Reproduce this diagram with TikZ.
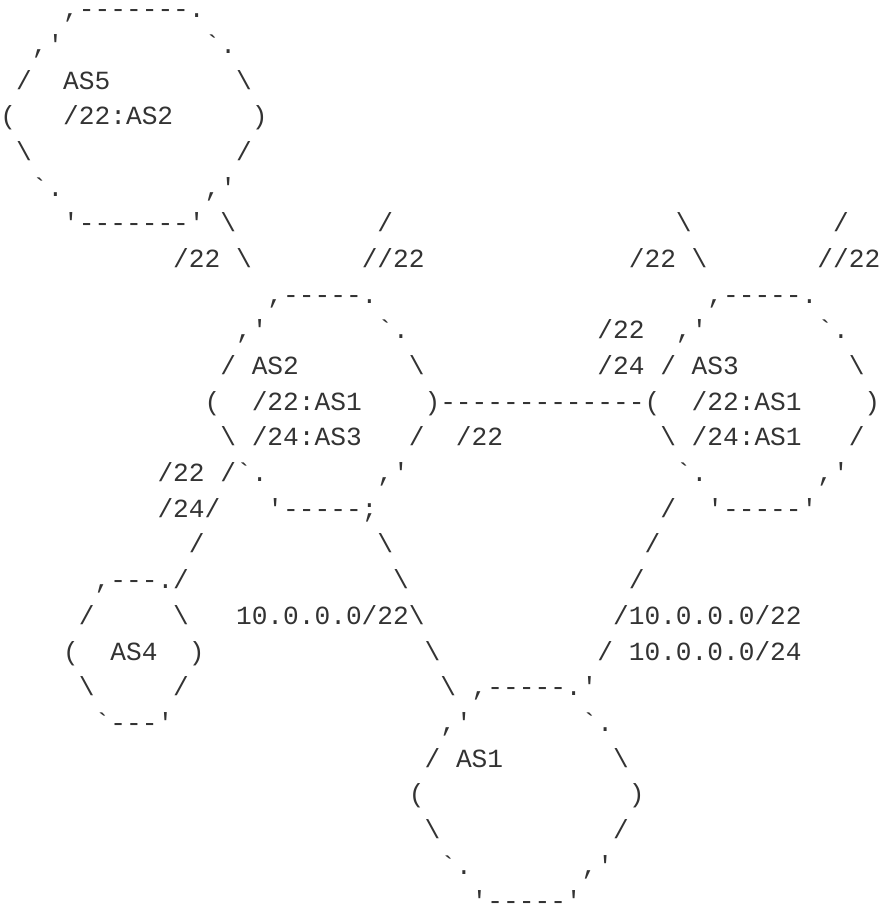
\documentclass[tikz,border=0pt]{standalone}
\usepackage{fontspec}
\setmonofont{Liberation Mono}
\usepackage{tikz}
\definecolor{ink}{HTML}{333333}
\newlength{\colw}
\setlength{\colw}{7.855pt}
\newcommand{\gap}[1]{\hspace*{#1\colw}}
\newcommand{\bsl}{\textbackslash}

\begin{document}
\begin{tikzpicture}[x=7.857pt, y=-17.84pt,
        asciiline/.style={anchor=base west, inner sep=0pt, text=ink,
            font=\fontsize{13.09pt}{17.84pt}\selectfont\ttfamily}]
        % Page frame
        \path[use as bounding box, fill=white] (0,0) rectangle (56,25.39);
        % AS5 and the links below it
        \node[asciiline] (r1) at (0,0.496) {\gap{4},-------.};
        \node[asciiline] (r2) at (0,1.496) {\gap{2},'\gap{9}`.};
        \node[asciiline] (r3) at (0,2.496) {\gap{1}/\gap{2}AS5\gap{8}\bsl};
        \node[asciiline] (r4) at (0,3.496) {(\gap{3}/22:AS2\gap{5})};
        \node[asciiline] (r5) at (0,4.496) {\gap{1}\bsl\gap{13}/};
        \node[asciiline] (r6) at (0,5.496) {\gap{2}`.\gap{9},'};
        \node[asciiline] (r7) at (0,6.496) {\gap{4}'-------'\gap{1}\bsl\gap{9}/\gap{18}\bsl\gap{9}/};
        \node[asciiline] (r8) at (0,7.496) {\gap{11}/22\gap{1}\bsl\gap{7}//22\gap{13}/22\gap{1}\bsl\gap{7}//22};
        % AS2 and AS3
        \node[asciiline] (r9) at (0,8.496) {\gap{17},-----.\gap{21},-----.};
        \node[asciiline] (r10) at (0,9.496) {\gap{15},'\gap{7}`.\gap{12}/22\gap{2},'\gap{7}`.};
        \node[asciiline] (r11) at (0,10.496) {\gap{14}/\gap{1}AS2\gap{7}\bsl\gap{11}/24\gap{1}/\gap{1}AS3\gap{7}\bsl};
        \node[asciiline] (r12) at (0,11.496) {\gap{13}(\gap{2}/22:AS1\gap{4})-------------(\gap{2}/22:AS1\gap{4})};
        \node[asciiline] (r13) at (0,12.496) {\gap{14}\bsl\gap{1}/24:AS3\gap{3}/\gap{2}/22\gap{10}\bsl\gap{1}/24:AS1\gap{3}/};
        \node[asciiline] (r14) at (0,13.496) {\gap{10}/22\gap{1}/`.\gap{7},'\gap{17}`.\gap{7},'};
        \node[asciiline] (r15) at (0,14.496) {\gap{10}/24/\gap{3}'-----;\gap{18}/\gap{2}'-----'};
        % AS4 and the links down to AS1
        \node[asciiline] (r16) at (0,15.496) {\gap{12}/\gap{11}\bsl\gap{16}/};
        \node[asciiline] (r17) at (0,16.496) {\gap{6},---./\gap{13}\bsl\gap{14}/};
        \node[asciiline] (r18) at (0,17.496) {\gap{5}/\gap{5}\bsl\gap{3}10.0.0.0/22\bsl\gap{12}/10.0.0.0/22};
        \node[asciiline] (r19) at (0,18.496) {\gap{4}(\gap{2}AS4\gap{2})\gap{14}\bsl\gap{10}/\gap{1}10.0.0.0/24};
        \node[asciiline] (r20) at (0,19.496) {\gap{5}\bsl\gap{5}/\gap{16}\bsl\gap{1},-----.'};
        \node[asciiline] (r21) at (0,20.496) {\gap{6}`---'\gap{17},'\gap{7}`.};
        % AS1
        \node[asciiline] (r22) at (0,21.496) {\gap{27}/\gap{1}AS1\gap{7}\bsl};
        \node[asciiline] (r23) at (0,22.496) {\gap{26}(\gap{13})};
        \node[asciiline] (r24) at (0,23.496) {\gap{27}\bsl\gap{11}/};
        \node[asciiline] (r25) at (0,24.496) {\gap{28}`.\gap{7},'};
        \node[asciiline] (r26) at (0,25.496) {\gap{30}'-----'};
\end{tikzpicture}
\end{document}
